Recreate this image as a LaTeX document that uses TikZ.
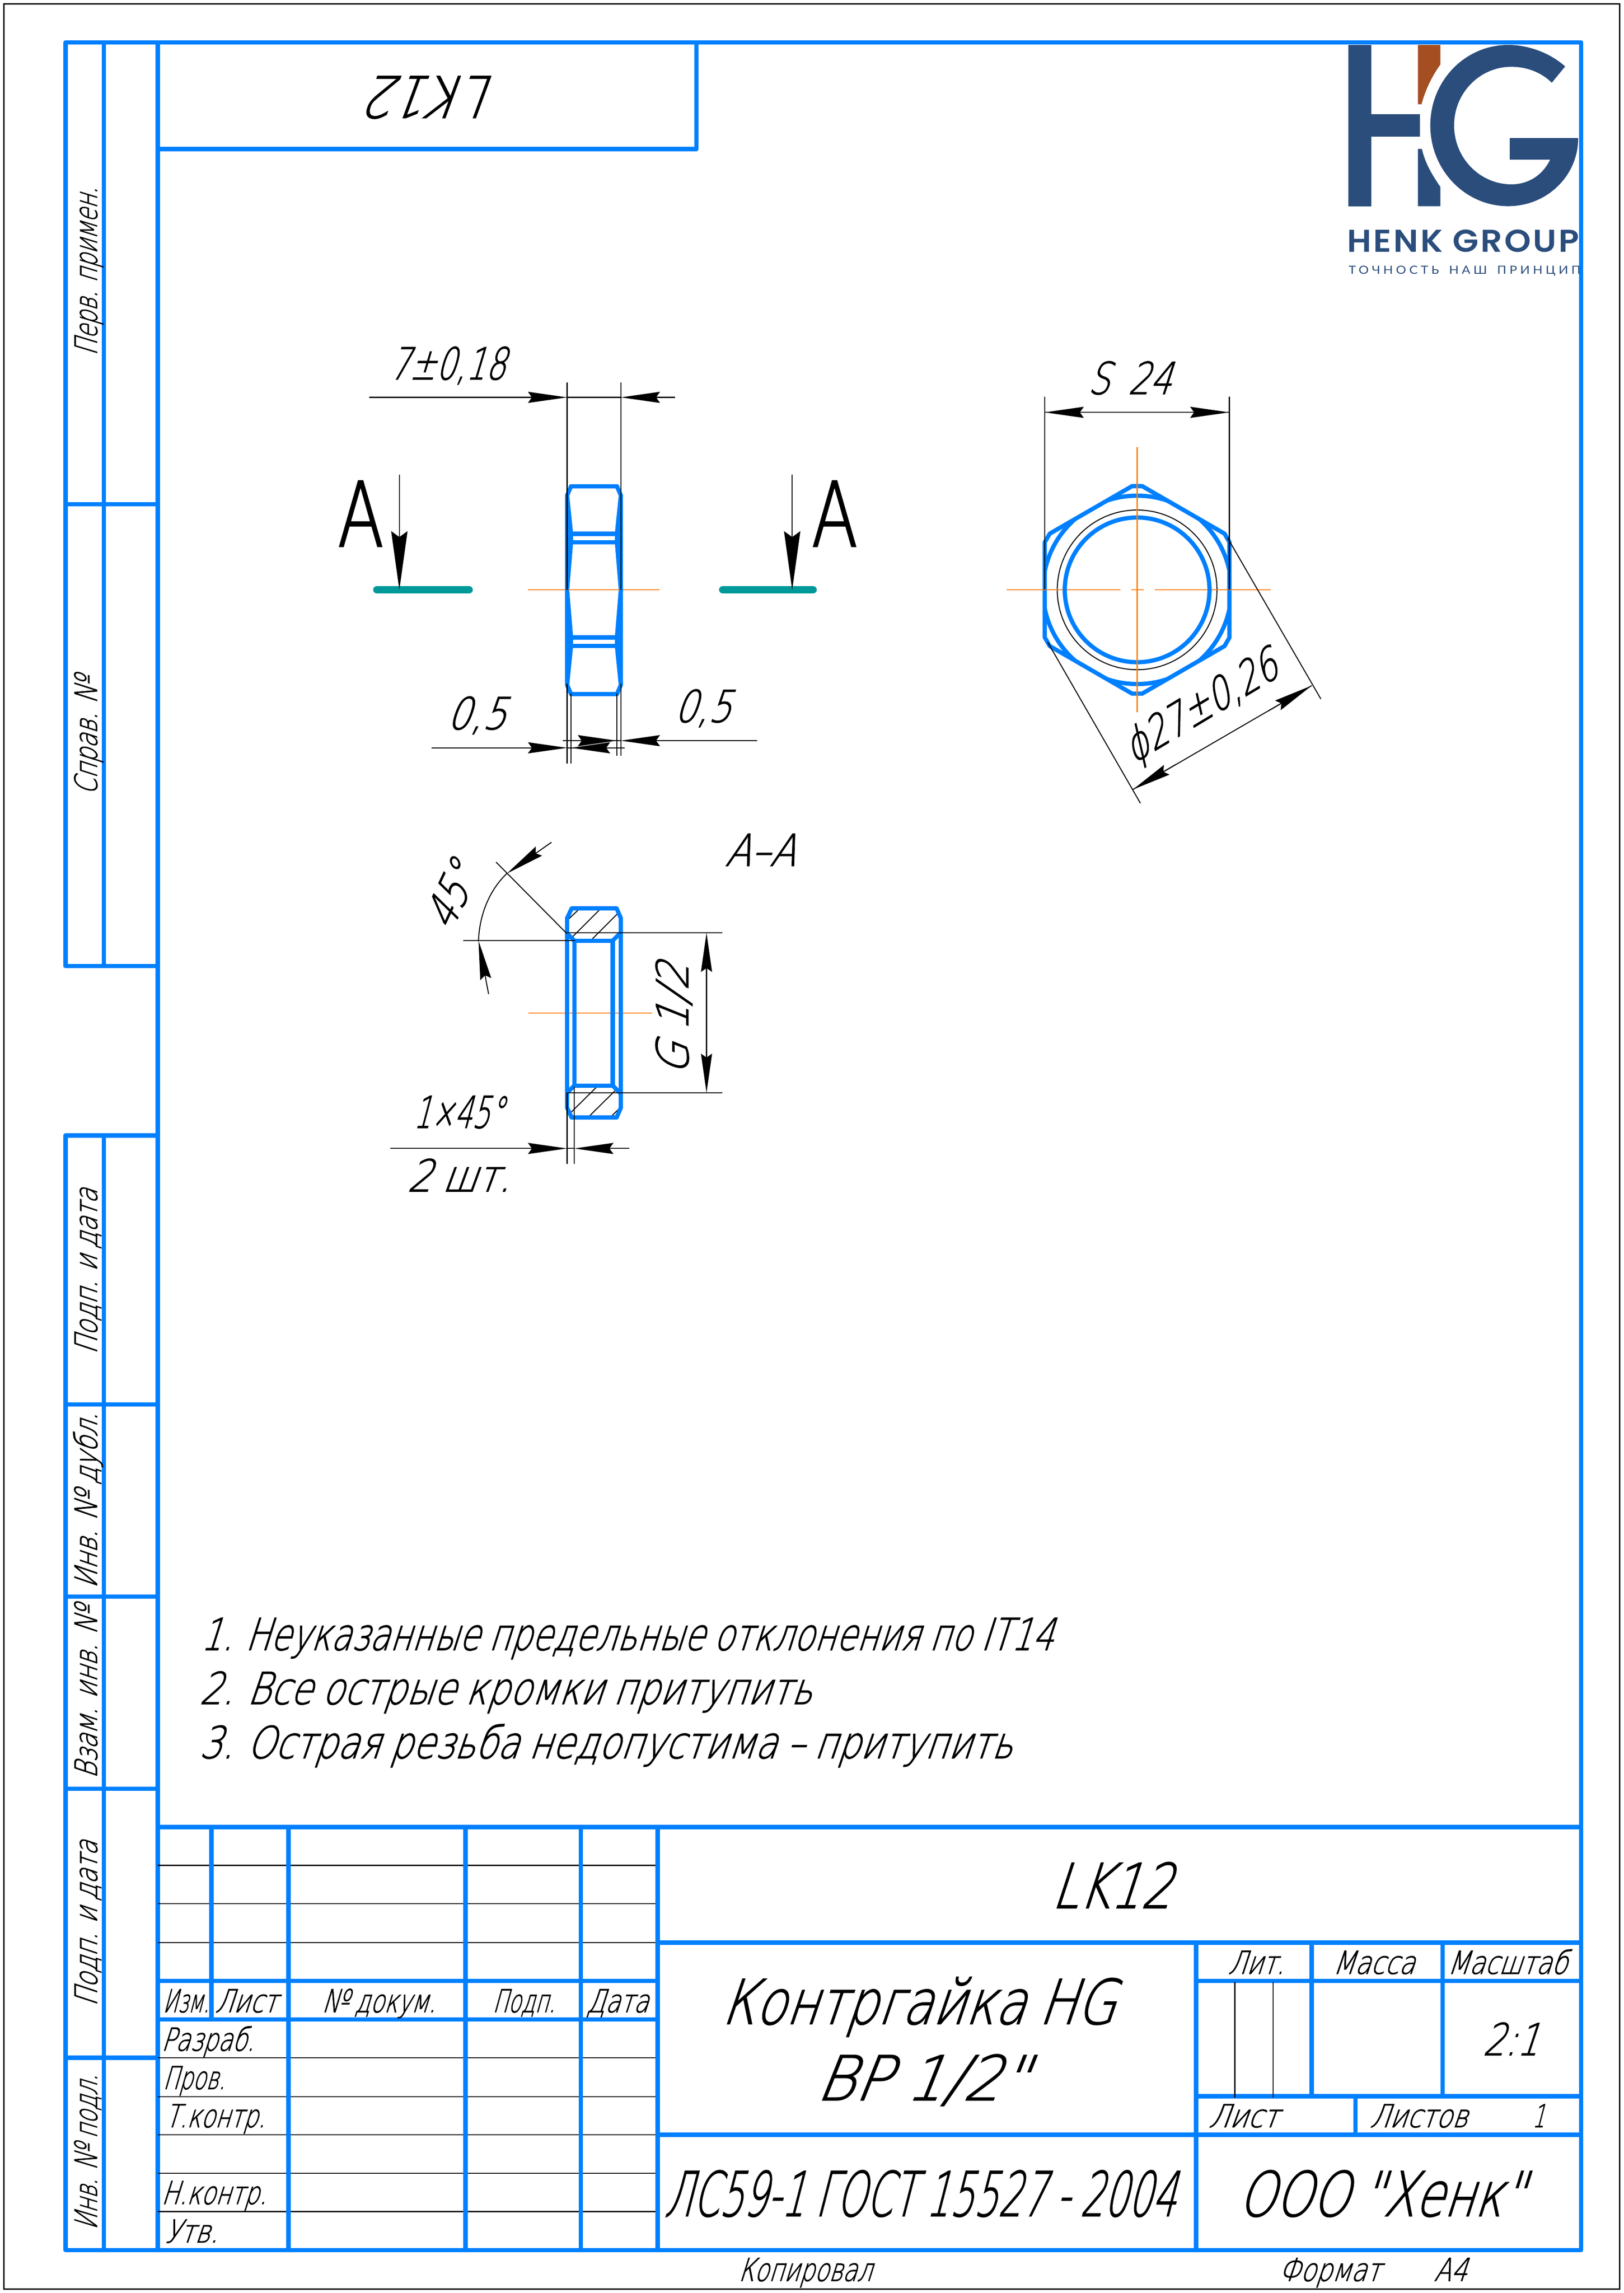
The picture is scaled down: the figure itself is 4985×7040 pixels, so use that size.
\documentclass[tikz,border=0pt]{standalone}
\usepackage{fontspec}
\usepackage{graphicx}
\usetikzlibrary{arrows.meta}
\newfontfamily\gostfont[FakeSlant=0.42,FakeBold=1.5,WordSpace=0.85]{DejaVu Sans ExtraLight}
\newfontfamily\upfont[FakeBold=2]{DejaVu Sans ExtraLight}
\newfontfamily\logofont[BoldFont={Poppins SemiBold},LetterSpace=6]{Poppins}
\newfontfamily\logosub[LetterSpace=24,WordSpace=1.6]{Lato}
\definecolor{frameblue}{HTML}{0080FF}
\definecolor{cutteal}{HTML}{009999}
\definecolor{axisorange}{HTML}{FF8000}
\definecolor{logoblue}{HTML}{2A4D7C}
\definecolor{logobrown}{HTML}{A44E22}
\newsavebox\gbox
\newcount\tcnt
\newcommand\fit[4][\gostfont]{\sbox\gbox{#1\fontsize{#3}{#3}\selectfont #4}%
  \pgfmathsetmacro\gs{#2*0.2845276/\wd\gbox}\scalebox{\gs}[1]{\usebox\gbox}}
\newcommand\TX[5][0]{\global\advance\tcnt by 1
  \node[gt,rotate=#1] (t\the\tcnt) at (#2) {\fit{#3}{#4}{#5}};}
\newcommand\TF[5]{\global\advance\tcnt by 1
  \node[gt] (t\the\tcnt) at (#2) {\fit[#1]{#3}{#4}{#5}};}
\tikzset{
  gt/.style={inner sep=0pt,outer sep=0pt,anchor=base west,text=black},
  thk/.style={draw=frameblue,line width=.135cm,line join=round},
  prt/.style={draw=frameblue,line width=.13cm,line join=round,line cap=round},
  thn/.style={draw=black,line width=.03cm},
  axs/.style={draw=axisorange,line width=.03cm},
  arw/.style={draw=black,line width=.03cm,-{Stealth[length=1.2cm,width=.34cm,inset=.12cm]}},
  cut/.style={draw=cutteal,line width=.23cm,line cap=round},
  cutarw/.style={draw=black,line width=.03cm,-{Stealth[length=1.8cm,width=.5cm,inset=.18cm]}}
}
\begin{document}
\begin{tikzpicture}[x=.01cm,y=-.01cm]
\useasboundingbox (0,0) rectangle (4985,7040);
\fill[white] (0,0) rectangle (4985,7040);
\draw[black,line width=.04cm] (12,12) rectangle (4972,7028);
% logo
\begin{scope}
\clip (4100,130) rectangle (4848,900);
\fill[logoblue] (4139,138) rectangle (4210,633);
\fill[logoblue] (4210,350) rectangle (4359,420);
\fill[logobrown] (4353,138) -- (4422,138) -- (4422,198) .. controls (4392,240) and (4375,280) .. (4364,320) -- (4353,320) -- cycle;
\fill[logoblue] (4353,457) -- (4365,457) .. controls (4375,500) and (4395,535) .. (4422,574) -- (4422,633) -- (4353,633) -- cycle;
\fill[logoblue] (4805,204) .. controls (4760,164) and (4695,138) .. (4630,138)
  .. controls (4498,138) and (4391,248) .. (4391,385)
  .. controls (4391,522) and (4498,633) .. (4630,633)
  .. controls (4749,633) and (4845,540) .. (4845,424)
  -- (4635,424) -- (4635,490) -- (4759,490)
  .. controls (4735,540) and (4690,566) .. (4640,566)
  .. controls (4543,566) and (4464,485) .. (4464,385)
  .. controls (4464,285) and (4543,205) .. (4640,205)
  .. controls (4688,205) and (4733,223) .. (4764,254) -- cycle;
\node[gt,text=logoblue] (logoname) at (4136,774) {\fit[\logofont\bfseries]{712}{27.5}{HENK GROUP}};
\node[gt,text=logoblue] (logosub) at (4140,841) {\fit[\logosub]{712}{9.8}{ТОЧНОСТЬ НАШ ПРИНЦИП}};
\end{scope}
% frame
\draw[thk] (484,130) -- (4854,130) -- (4854,6908) -- (201,6908) -- (201,3486) -- (484,3486);
\draw[thk] (484,130) -- (201,130) -- (201,2966) -- (484,2966);
\draw[thk] (484,130) -- (484,6908);
\draw[thk] (319,130) -- (319,2966);
\draw[thk] (319,3486) -- (319,6908);
\foreach \yy in {1548,4312,4902,5492,6318} \draw[thk] (201,\yy) -- (484,\yy);
\draw[thk] (484,458) -- (2138,458) -- (2138,130);
% title block
\foreach \yy in {5727,5845,5964,6318,6437,6554,6672,6790} \draw[thn] (484,\yy) -- (2019,\yy);
\draw[thk] (484,5609) -- (4854,5609);
\draw[thk] (484,6082) -- (2019,6082);
\draw[thk] (484,6200) -- (2019,6200);
\draw[thk] (2019,5964) -- (4854,5964);
\draw[thk] (2019,6554) -- (4854,6554);
\draw[thk] (3672,6082) -- (4854,6082);
\draw[thk] (3672,6436) -- (4854,6436);
\draw[thk] (649,5609) -- (649,6200);
\foreach \xx in {886,1429,1783,2019} \draw[thk] (\xx,5609) -- (\xx,6908);
\draw[thk] (3672,5964) -- (3672,6908);
\draw[thk] (4027,5964) -- (4027,6436);
\draw[thk] (4429,5964) -- (4429,6436);
\draw[thk] (4161,6436) -- (4161,6554);
\draw[thn] (3791,6086) -- (3791,6440);
\draw[thn] (3909,6086) -- (3909,6440);
% side view
\draw[axs] (1621,1811) -- (2025,1811);
\draw[prt] (1753,1493) -- (1894,1493) -- (1906,1521) -- (1906,2103) -- (1894,2131) -- (1753,2131) -- (1741,2103) -- (1741,1521) -- cycle;
\draw[prt] (1741,1521) -- (1753,1639) -- (1753,1665) -- (1741,1811) -- (1753,1957) -- (1753,1983) -- (1741,2103);
\draw[prt] (1906,1521) -- (1894,1639) -- (1894,1665) -- (1906,1811) -- (1894,1957) -- (1894,1983) -- (1906,2103);
\foreach \yy in {1639,1665,1957,1983} \draw[prt] (1753,\yy) -- (1894,\yy);
\draw[axs] (1745,1811) -- (1902,1811);
\draw[thn] (1741,1174) -- (1741,1811);
\draw[thn] (1906,1174) -- (1906,1811);
\draw[arw] (1134,1220) -- (1741,1220);
\draw[thn] (1741,1220) -- (1906,1220);
\draw[arw] (2073,1220) -- (1906,1220);
\draw[thn] (1741,2100) -- (1741,2344);
\draw[thn] (1753,2129) -- (1753,2344);
\draw[thn] (1894,2129) -- (1894,2320);
\draw[thn] (1906,2100) -- (1906,2320);
\draw[arw] (1325,2296) -- (1741,2296);
\draw[thn] (1741,2296) -- (1767,2296);
\draw[arw] (1872,2296) -- (1753,2296);
\draw[thn] (1870,2296) -- (1918,2296);
\draw[arw] (2324,2274) -- (1906,2274);
\draw[thn] (1727,2274) -- (1906,2274);
\draw[arw] (1775,2274) -- (1894,2274);
% cutting plane marks
\draw[cut] (1157,1811) -- (1440,1811);
\draw[cut] (2219,1811) -- (2496,1811);
\draw[cutarw] (1226,1457) -- (1226,1811);
\draw[cutarw] (2432,1457) -- (2432,1811);
\TF{\upfont}{1037,1677}{141}{78}{A}
\TF{\upfont}{2492,1677}{141}{78}{A}
\TX{1196,1165}{355}{38.6}{7±0,18}
\TX{1371,2239}{181}{38.6}{0,5}
\TX{2069,2217}{174}{38.6}{0,5}
% hex view
\begin{scope}[shift={(3491,1811)}]
\draw[axs] (-401,0) -- (-51,0);
\draw[axs] (-18,0) -- (20,0);
\draw[axs] (54,0) -- (410,0);
\draw[axs] (0,-438) -- (0,375);
\draw[prt] (27.25:319) -- (32.75:319) -- (87.25:319) -- (92.75:319) -- (147.25:319) -- (152.75:319) -- (207.25:319) -- (212.75:319) -- (267.25:319) -- (272.75:319) -- (327.25:319) -- (332.75:319) -- cycle;
\begin{scope}
\clip (27.25:319) -- (32.75:319) -- (87.25:319) -- (92.75:319) -- (147.25:319) -- (152.75:319) -- (207.25:319) -- (212.75:319) -- (267.25:319) -- (272.75:319) -- (327.25:319) -- (332.75:319) -- cycle;
\draw[frameblue,line width=.13cm] (0,0) circle [radius=2.89cm];
\end{scope}
\draw[thn] (0,0) circle [radius=2.45cm];
\draw[frameblue,line width=.13cm] (0,0) circle [radius=2.22cm];
\draw[axs] (-401,0) -- (-230,0);
\draw[axs] (230,0) -- (410,0);
\draw[axs] (0,-438) -- (0,-215);
\draw[axs] (0,215) -- (0,375);
\end{scope}
\draw[thn] (3207,1218) -- (3207,1811);
\draw[thn] (3774,1218) -- (3774,1811);
\draw[thn] (3207,1266) -- (3774,1266);
\draw[arw] (3340,1266) -- (3207,1266);
\draw[arw] (3645,1266) -- (3774,1266);
\TX{3339,1210}{256}{38.6}{S\ \ 24}
\draw[thn] (3769,1652) -- (4055,2146);
\draw[thn] (3216,1971) -- (3501,2466);
\draw[thn] (3478,2424) -- (4027,2105);
\draw[arw] (3895,2182) -- (4027,2105);
\draw[arw] (3610,2347) -- (3478,2424);
\TX[31]{3480,2345}{530}{38.6}{ϕ27±0,26}
% section view
\TX{2225,2659}{216}{38.6}{А–А}
\draw[axs] (1622,3110) -- (2002,3110);
\draw[thn] (1740,2827) -- (1777,2792);
\draw[thn] (1755,2879) -- (1842,2792);
\draw[thn] (1813,2888) -- (1900,2801);
\draw[thn] (1879,2888) -- (1908,2863);
\draw[thn] (1743,3355) -- (1768,3333);
\draw[thn] (1747,3421) -- (1836,3333);
\draw[thn] (1805,3431) -- (1894,3343);
\draw[thn] (1873,3431) -- (1908,3397);
\draw[prt] (1755,2789) -- (1893,2789) -- (1906,2819) -- (1906,3401) -- (1893,3431) -- (1755,3431) -- (1741,3401) -- (1741,2819) -- cycle;
\draw[prt] (1763,2888) -- (1881,2888) -- (1881,3333) -- (1763,3333) -- cycle;
\draw[prt] (1763,2888) -- (1741,2866);
\draw[prt] (1881,2888) -- (1906,2863);
\draw[prt] (1763,3333) -- (1741,3355);
\draw[prt] (1881,3333) -- (1906,3358);
\draw[thn] (1740,2864) -- (2217,2864);
\draw[thn] (1740,3355) -- (2217,3355);
\draw[arw] (2169,3110) -- (2169,2864);
\draw[arw] (2169,3110) -- (2169,3355);
\draw[thn] (1422,2888) -- (1765,2888);
\draw[thn] (1740,2866) -- (1523,2647);
\draw[thn] (1469,2888) .. controls (1472,2805) and (1505,2730) .. (1556,2682);
\draw[arw] (1500,3052) -- (1469,2888);
\draw[arw] (1693,2586) -- (1556,2682);
\draw[thn] (1741,3355) -- (1741,3574);
\draw[thn] (1763,3337) -- (1763,3574);
\draw[arw] (1198,3526) -- (1741,3526);
\draw[thn] (1741,3526) -- (1763,3526);
\draw[arw] (1932,3526) -- (1763,3526);
\TX[65]{1385,2863}{200}{38.6}{45°}
\TX[90]{2113,3303}{343}{38.6}{G 1/2}
\TX{1269,3463}{276}{38.6}{1×45°}
\TX{1249,3658}{317}{38.6}{2 шт.}
% notes
\TX{616,5066}{2616}{38.6}{1. Неуказанные предельные отклонения по IT14}
\TX{611,5232}{1880}{38.6}{2. Все острые кромки притупить}
\TX{611,5398}{2495}{38.6}{3. Острая резьба недопустима – притупить}
% top box
\TX[180]{1526,234}{382}{50}{LK12}
% margin strip
\TX[90]{298,1092}{517}{27}{Перв. примен.}
\TX[90]{298,2441}{364}{27}{Справ. №}
\TX[90]{298,4158}{508}{27}{Подп. и дата}
\TX[90]{298,4877}{539}{27}{Инв. № дубл.}
\TX[90]{298,5461}{530}{27}{Взам. инв. №}
\TX[90]{298,6160}{508}{27}{Подп. и дата}
\TX[90]{298,6846}{477}{27}{Инв. № подл.}
% title block texts
\TX{500,6178}{142}{27.7}{Изм.}
\TX{660,6178}{190}{27.7}{Лист}
\TX{988,6178}{349}{27.7}{№ докум.}
\TX{1512,6178}{192}{27.7}{Подп.}
\TX{1800,6178}{190}{27.7}{Дата}
\TX{495,6296}{285}{27.7}{Разраб.}
\TX{500,6414}{191}{27.7}{Пров.}
\TX{507,6531}{307}{27.7}{Т.контр.}
\TX{495,6767}{323}{27.7}{Н.контр.}
\TX{505,6885}{164}{27.7}{Утв.}
\TX{3227,5858}{367}{54}{LK12}
\TX{2214,6214}{1206}{54}{Контргайка HG}
\TX{2503,6448}{647}{54}{ВР 1/2"}
\TX{2039,6804}{1570}{54}{ЛС59-1 ГОСТ\ 15527 - 2004}
\TX{3800,6804}{876}{54}{ООО "Хенк"}
\TX{3770,6060}{172}{27.7}{Лит.}
\TX{4091,6060}{251}{27.7}{Масса}
\TX{4443,6060}{367}{27.7}{Масштаб}
\TX{4551,6310}{172}{38.6}{2:1}
\TX{3710,6531}{213}{27.7}{Лист}
\TX{4205,6531}{299}{27.7}{Листов}
\TX{4704,6531}{38}{27.7}{1}
\TX{2267,7003}{409}{27.7}{Копировал}
\TX{3925,7003}{312}{27.7}{Формат}
\TX{4402,7003}{101}{27.7}{А4}
\end{tikzpicture}
\end{document}
